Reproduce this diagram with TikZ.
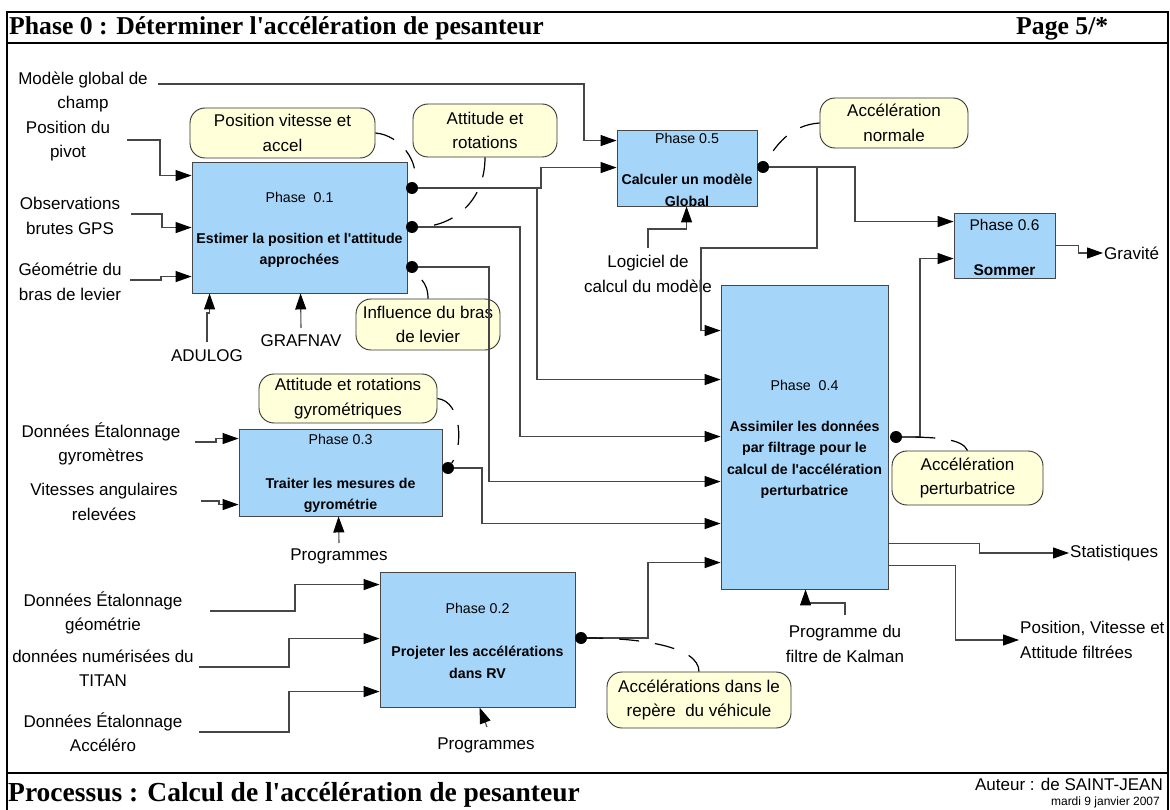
\documentclass[tikz,border=0pt]{standalone}
\usepackage{fontspec}
\setsansfont{Liberation Sans}
\newfontfamily\serifgras{Liberation Serif}
\usetikzlibrary{arrows.meta,calc}
\definecolor{bleu}{RGB}{166,213,250}
\definecolor{jaune}{RGB}{255,255,218}
\definecolor{trait}{RGB}{70,70,70}
\newcommand{\lab}{\sffamily\fontsize{17}{24.5}\selectfont}
\tikzstyle{phase}=[rectangle,draw=trait,fill=bleu,line width=0.9pt,inner sep=0pt]
\tikzstyle{bulle}=[rectangle,rounded corners=15pt,draw=black!80,fill=jaune,line width=0.9pt,inner sep=0pt,align=center,font=\lab]
\tikzstyle{etiq}=[align=center,font=\lab,inner sep=1pt]
\tikzstyle{ptit}=[font=\sffamily\fontsize{14.2}{20}\selectfont,inner sep=0pt]
\tikzstyle{gras}=[font=\sffamily\bfseries\fontsize{14.2}{21.5}\selectfont,align=center,inner sep=0pt]
\tikzstyle{fl}=[draw=trait,line width=1.1pt,-{Triangle[length=16pt,width=11pt,color=black]}]
\tikzstyle{lien}=[draw=black,line width=1.2pt,dash pattern=on 20pt off 16pt]
\tikzstyle{pt}=[circle,fill=black,inner sep=0pt,minimum size=12pt]

\begin{document}
\begin{tikzpicture}[x=1pt,y=-1pt]
\useasboundingbox (0,0) rectangle (1170,810);
% cadre
\draw[line width=2pt] (7,12) rectangle (1168,840);
\draw[line width=2.5pt] (7,43) -- (1168,43);
\draw[line width=2.5pt] (7,773) -- (1168,773);
\node[anchor=base west,inner sep=0pt,font=\serifgras\bfseries\fontsize{25.7}{28}\selectfont] (titre) at (9,35) {Phase 0 : Déterminer l\textquotesingle accélération de pesanteur};
\node[anchor=base west,inner sep=0pt,font=\serifgras\bfseries\fontsize{25.7}{28}\selectfont] (page) at (1016,35) {Page 5/*};
\node[anchor=base west,inner sep=0pt,font=\serifgras\bfseries\fontsize{27.5}{30}\selectfont] (processus) at (8,801) {Processus : Calcul de l\textquotesingle accélération de pesanteur};
\node[anchor=base east,inner sep=0pt,font=\lab] (auteur) at (1163,790) {Auteur : de SAINT-JEAN};
\node[anchor=base east,inner sep=0pt,font=\sffamily\fontsize{12}{14}\selectfont] (date) at (1160,805) {mardi 9 janvier 2007};

% phases
\node[phase,minimum width=215pt,minimum height=131pt] (P1) at (299.5,227.5) {};
\node[phase,minimum width=140pt,minimum height=76pt] (P5) at (687,168) {};
\node[phase,minimum width=101pt,minimum height=65pt] (P6) at (1004.5,245.5) {};
\node[phase,minimum width=167pt,minimum height=304pt] (P4) at (804.5,437) {};
\node[phase,minimum width=203pt,minimum height=87pt] (P3) at (340.5,472.5) {};
\node[phase,minimum width=195pt,minimum height=135pt] (P2) at (477.5,639.5) {};
\node[ptit] (P1a) at ($(P1.north)+(0,36)$) {Phase\ \ 0.1};
\node[gras] (P1b) at ($(P1.north)+(0,89)$) {Estimer la position et l\textquotesingle attitude\\approchées};
\node[ptit] (P5a) at ($(P5.north)+(0,9)$) {Phase 0.5};
\node[gras] (P5b) at ($(P5.north)+(0,61)$) {Calculer un modèle\\Global};
\node[ptit,font=\sffamily\fontsize{15.5}{20}\selectfont] (P6a) at ($(P6.north)+(0,12)$) {Phase 0.6};
\node[gras,font=\sffamily\bfseries\fontsize{15.5}{20}\selectfont] (P6b) at ($(P6.north)+(0,58)$) {Sommer};
\node[ptit] (P4a) at ($(P4.north)+(0,101)$) {Phase\ \ 0.4};
\node[gras] (P4b) at ($(P4.north)+(0,175)$) {Assimiler les données\\par filtrage pour le\\calcul de l\textquotesingle accélération\\perturbatrice};
\node[ptit] (P3a) at ($(P3.north)+(0,11)$) {Phase 0.3};
\node[gras] (P3b) at ($(P3.north)+(0,67)$) {Traiter les mesures de\\gyrométrie};
\node[ptit] (P2a) at ($(P2.north)+(0,37)$) {Phase 0.2};
\node[gras] (P2b) at ($(P2.north)+(0,91)$) {Projeter les accélérations\\dans RV};

% bulles
\node[bulle,minimum width=185pt,minimum height=50pt] (C1) at (282.5,133) {Position vitesse et\\accel};
\node[bulle,minimum width=144pt,minimum height=53pt] (C2) at (485,130.5) {Attitude et\\rotations};
\node[bulle,minimum width=148pt,minimum height=50pt] (C3) at (894,123) {Accélération\\normale};
\node[bulle,minimum width=144pt,minimum height=51pt] (C4) at (428,324.5) {Influence du bras\\de levier};
\node[bulle,minimum width=178pt,minimum height=49pt] (C5) at (348,398.5) {Attitude et rotations\\gyrométriques};
\node[bulle,minimum width=151pt,minimum height=54pt] (C6) at (967.5,478) {Accélération\\perturbatrice};
\node[bulle,minimum width=184pt,minimum height=56pt] (C7) at (699,700) {Accélérations dans le\\repère\ \ du véhicule};

% etiquettes
\node[etiq] (lchamp) at (83,92) {Modèle global de\\champ};
\node[etiq] (lpivot) at (68,141) {Position du\\pivot};
\node[etiq] (lgps) at (70,216) {Observations\\brutes GPS};
\node[etiq] (llevier) at (70,282) {Géométrie du\\bras de levier};
\node[etiq] (ladulog) at (207,356) {ADULOG};
\node[etiq] (lgrafnav) at (301,341) {GRAFNAV};
\node[etiq] (llogiciel) at (648,274) {Logiciel de\\calcul du modèle};
\node[etiq,anchor=west] (lgravite) at (1103,253) {Gravité};
\node[etiq] (lgyro) at (101,444) {Données Étalonnage\\gyromètres};
\node[etiq] (lvit) at (104,502) {Vitesses angulaires\\relevées};
\node[etiq] (lprog3) at (339,556) {Programmes};
\node[etiq,anchor=west] (lstat) at (1069,553) {Statistiques};
\node[etiq,anchor=west,align=left] (lpos) at (1019,640) {Position, Vitesse et\\Attitude filtrées};
\node[etiq] (lkalman) at (845,644) {Programme du\\filtre de Kalman};
\node[etiq] (lgeo) at (103,613) {Données Étalonnage\\géométrie};
\node[etiq] (ltitan) at (103,668) {données numérisées du\\TITAN};
\node[etiq] (laccelero) at (103,732) {Données Étalonnage\\Accéléro};
\node[etiq] (lprog2) at (486,745) {Programmes};

% departs
\coordinate (s-champ) at (158,84);
\coordinate (s-pivot) at (127,140);
\coordinate (s-gps) at (131,214);
\coordinate (s-levier) at (130,280);
\coordinate (s-adulog) at (207,342);
\coordinate (s-grafnav) at (301,328);
\coordinate (s-logiciel) at (648,248);
\coordinate (s-kalman) at (845,615);
\coordinate (s-gyro) at (195,442);
\coordinate (s-vit) at (201,501);
\coordinate (s-prog3) at (339,543);
\coordinate (s-geo) at (210,611);
\coordinate (s-titan) at (199,667);
\coordinate (s-accelero) at (199,732);
\coordinate (s-prog2) at (487,727);

% sorties
\node[pt] (D1) at (412,188) {};
\node[pt] (D2) at (412,227) {};
\node[pt] (D3) at (412,267) {};
\node[pt] (D5) at (763,167) {};
\node[pt] (D4) at (896,437) {};
\node[pt] (D3b) at (448,468) {};
\node[pt] (D2b) at (581,638) {};

% phase 0.1
\draw[fl] (s-pivot) -- ++(33,0) |- ($(P1.north west)+(0,14)$);
\draw[fl] (s-gps) -- ++(31,0) |- ($(P1.north west)+(0,66)$);
\draw[fl] (s-levier) -- ++(31,0) |- ($(P1.north west)+(0,115)$);
\draw[fl] (s-adulog) -- ++(0,-29) -| ($(P1.south west)+(18,0)$);
\draw[fl] (s-grafnav) -- ($(P1.south west)+(109,0)$);
% phase 0.5
\draw[fl] (s-champ) -- ++(426,0) |- ($(P5.north west)+(0,11)$);
\draw[fl] (D1) -- ++(129,0) |- ($(P5.north west)+(0,38)$);
\draw[fl] (s-logiciel) -- ++(0,-19) -| ($(P5.south west)+(70,0)$);
% phase 0.4
\draw[fl] (D1) -- ++(125,0) |- ($(P4.north west)+(0,95)$);
\draw[fl] (D2) -- ++(108,0) |- ($(P4.north west)+(0,152)$);
\draw[fl] (D3) -- ++(77,0) |- ($(P4.north west)+(0,197)$);
\draw[fl] (D3b) -- ++(34,0) |- ($(P4.north west)+(0,239)$);
\draw[fl] (D2b) -- ++(67,0) |- ($(P4.north west)+(0,278)$);
\draw[fl] (D5) -- ++(54,0) |- ++(-116,81) |- ($(P4.north west)+(0,46)$);
\draw[fl] (s-kalman) -- ++(0,-12) -| ($(P4.south west)+(85,0)$);
\draw[fl] ($(P4.north east)+(0,259)$) -- ++(91,0) |- (lstat.west);
\draw[fl] ($(P4.north east)+(0,281)$) -- ++(67,0) |- (lpos.west);
% phase 0.6
\draw[fl] (D5) -- ++(92,0) |- ($(P6.north west)+(0,9)$);
\draw[fl] (D4) -- ++(24,0) |- ($(P6.north west)+(0,46)$);
\draw[fl] ($(P6.north east)+(0,33)$) -- ++(23,0) |- (lgravite.west);
% phase 0.3
\draw[fl] (s-gyro) -- ++(21,0) |- ($(P3.north west)+(0,10)$);
\draw[fl] (s-vit) -- ++(18,0) |- ($(P3.north west)+(0,76)$);
\draw[fl] (s-prog3) -- ($(P3.south west)+(100,0)$);
% phase 0.2
\draw[fl] (s-geo) -- ++(85,0) |- ($(P2.north west)+(0,13)$);
\draw[fl] (s-titan) -- ++(90,0) |- ($(P2.north west)+(0,67)$);
\draw[fl] (s-accelero) -- ++(90,0) |- ($(P2.north west)+(0,120)$);
\draw[fl] (s-prog2) -- ($(P2.south west)+(100,0)$);

% liens des bulles
\draw[lien] (C1.east) .. controls +(25,2) and +(8,-25) .. (D1);
\draw[lien] (C2.south) .. controls +(0,45) and +(40,0) .. (D2);
\draw[lien] (C4.north) .. controls +(0,-18) and +(5,10) .. (D3);
\draw[lien] (C3.west) .. controls +(-30,2) and +(12,-20) .. (D5);
\draw[lien] (C5.east) .. controls +(25,3) and +(15,-20) .. (D3b);
\draw[lien] (C6.north) .. controls +(-5,-12) and +(40,0) .. (D4);
\draw[lien] (C7.north) .. controls +(0,-25) and +(60,0) .. (D2b);
\end{tikzpicture}
\end{document}
